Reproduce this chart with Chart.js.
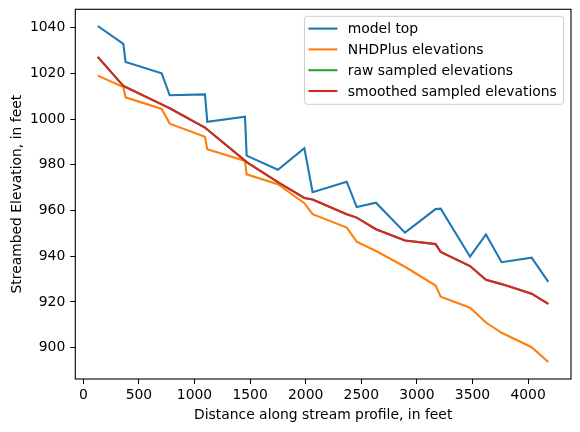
<!DOCTYPE html>
<html>
<head>
<meta charset="utf-8">
<script src="https://cdn.jsdelivr.net/npm/chart.js@4/dist/chart.umd.min.js"></script>
<style>
  body { margin: 0; background: #fff; }
  #wrap { width: 580px; height: 432px; }
</style>
</head>
<body>
<div id="wrap"><canvas id="profile"></canvas></div>
<script>
// distance along the stream profile (feet), shared by all series
var distance = [130, 360, 380, 705, 777, 1094, 1115, 1454, 1469, 1750, 1988, 2062,
    2369, 2459, 2632, 2893, 3168, 3214, 3478, 3621, 3762, 4032, 4182];

var modelTop = [1040.7, 1032.9, 1025.0, 1020.0, 1010.4, 1010.8, 998.8, 1001.0, 984.0, 977.8, 987.3, 968.0,
    972.6, 961.5, 963.4, 950.3, 960.6, 960.8, 939.8, 949.5, 937.4, 939.4, 928.8];

var nhdPlus = [1019.0, 1014.0, 1009.5, 1004.4, 998.0, 992.2, 986.8, 981.7, 975.8, 971.5, 963.2, 958.4,
    952.5, 946.4, 942.3, 935.4, 927.2, 922.3, 917.5, 911.0, 906.5, 900.2, 893.7];

var rawSampled = [1027.2, 1014.5, 1014.0, 1006.4, 1004.7, 996.3, 995.4, 981.8, 981.2, 972.4, 965.5, 964.8,
    958.4, 956.9, 951.8, 946.9, 945.3, 941.9, 935.7, 929.7, 927.8, 923.6, 919.2];

var smoothedSampled = [1027.2, 1014.5, 1014.0, 1006.4, 1004.7, 996.3, 995.4, 981.8, 981.2, 972.4, 965.5, 964.8,
    958.4, 956.9, 951.8, 946.9, 945.3, 941.9, 935.7, 929.7, 927.8, 923.6, 919.2];

var xTicks = [0, 500, 1000, 1500, 2000, 2500, 3000, 3500, 4000];
var yTicks = [900, 920, 940, 960, 980, 1000, 1020, 1040];

function pts(vals) {
    return distance.map(function (d, i) { return { x: d, y: vals[i] }; });
}

var FONT = "'DejaVu Sans', sans-serif";

// matplotlib style legend inside the axes + the full box of spines
var insideLegend = {
    id: 'insideLegend',
    afterDraw: function (chart) {
        var ctx = chart.ctx, area = chart.chartArea;
        ctx.save();
        ctx.strokeStyle = '#000';
        ctx.lineWidth = 1.1;
        ctx.strokeRect(area.left, area.top, area.right - area.left, area.bottom - area.top);

        ctx.font = '13.9px ' + FONT;
        var sets = chart.data.datasets;
        var maxW = 0;
        sets.forEach(function (ds) { maxW = Math.max(maxW, ctx.measureText(ds.label).width); });
        var w = 43 + maxW + 7;
        var h = 88;
        var right = area.right - 7.5;
        var left = right - w;
        var top = area.top + 7;
        ctx.beginPath();
        ctx.roundRect(left, top, w, h, 3);
        ctx.fillStyle = 'rgba(255,255,255,0.8)';
        ctx.fill();
        ctx.strokeStyle = '#cccccc';
        ctx.lineWidth = 1;
        ctx.stroke();

        ctx.textBaseline = 'middle';
        sets.forEach(function (ds, i) {
            var y = top + 12.3 + i * 20.8;
            ctx.beginPath();
            ctx.moveTo(left + 4, y);
            ctx.lineTo(left + 33, y);
            ctx.strokeStyle = ds.borderColor;
            ctx.lineWidth = 2.1;
            ctx.stroke();
            ctx.fillStyle = '#000';
            ctx.fillText(ds.label, left + 43.3, y + 1);
        });
        ctx.restore();
    }
};

function plain(v) { return String(v); }

new Chart("profile", {
    type: "line",
    data: {
        datasets: [{
            label: "model top", data: pts(modelTop), borderColor: "#1f77b4", order: 4
        }, {
            label: "NHDPlus elevations", data: pts(nhdPlus), borderColor: "#ff7f0e", order: 3
        }, {
            label: "raw sampled elevations", data: pts(rawSampled), borderColor: "#2ca02c", order: 2
        }, {
            label: "smoothed sampled elevations", data: pts(smoothedSampled), borderColor: "#d62728", order: 1
        }]
    },
    options: {
        responsive: true,
        maintainAspectRatio: false,
        animation: false,
        layout: { padding: { left: 0, right: 9, top: 9.3, bottom: 0 } },
        elements: {
            line: { borderWidth: 2.1, tension: 0, fill: false },
            point: { radius: 0, hoverRadius: 0 }
        },
        plugins: { legend: { display: false }, tooltip: { enabled: false } },
        scales: {
            x: {
                type: "linear",
                min: -72, max: 4386,
                afterBuildTicks: function (s) { s.ticks = xTicks.map(function (v) { return { value: v }; }); },
                afterFit: function (s) { s.height = 53; s.paddingLeft = 0; s.paddingRight = 0; },
                grid: { drawOnChartArea: false, drawTicks: true, tickLength: 5, color: "#000" },
                border: { display: false },
                ticks: { color: "#000", font: { family: FONT, size: 13.9 }, padding: 3, maxRotation: 0,
                    callback: plain },
                title: { display: true, text: "Distance along stream profile, in feet", color: "#000",
                    font: { family: FONT, size: 13.9 }, padding: { top: 1, bottom: 8 } }
            },
            y: {
                min: 886.3, max: 1048.0,
                afterBuildTicks: function (s) { s.ticks = yTicks.map(function (v) { return { value: v }; }); },
                afterFit: function (s) { s.width = 75.3; s.paddingTop = 0; s.paddingBottom = 0; },
                grid: { drawOnChartArea: false, drawTicks: true, tickLength: 5, color: "#000" },
                border: { display: false },
                ticks: { color: "#000", font: { family: FONT, size: 13.9 }, padding: 5, callback: plain },
                title: { display: true, text: "Streambed Elevation, in feet", color: "#000",
                    font: { family: FONT, size: 13.9 }, padding: { top: 9, bottom: 0 } }
            }
        }
    },
    plugins: [insideLegend]
});
</script>
</body>
</html>
